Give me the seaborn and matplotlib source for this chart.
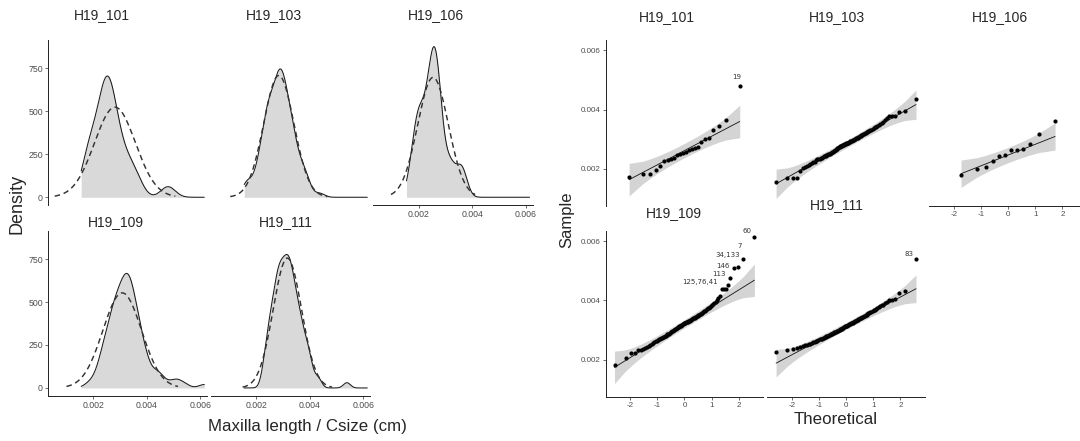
import numpy as np
import matplotlib
matplotlib.use("Agg")
import matplotlib.pyplot as plt
import seaborn as sns
from statistics import NormalDist

# ---------------- data ----------------
groups = ["H19_101", "H19_103", "H19_106", "H19_109", "H19_111"]

# sorted Maxilla length / Csize values, in units of 1e-3 cm
h19_101 = [1.72, 1.82, 1.84, 1.98, 2.09, 2.28, 2.30, 2.32, 2.38, 2.46, 2.51, 2.55,
           2.58, 2.63, 2.67, 2.70, 2.74, 2.92, 3.02, 3.04, 3.30, 3.44, 3.66, 4.79]
h19_103 = [1.55, 1.69, 1.69, 1.70, 1.93, 2.02, 2.07, 2.10, 2.13, 2.16,
           2.19, 2.22, 2.25, 2.29, 2.32, 2.33, 2.35, 2.36, 2.38, 2.40,
           2.42, 2.43, 2.45, 2.46, 2.47, 2.49, 2.50, 2.52, 2.53, 2.55,
           2.56, 2.58, 2.60, 2.61, 2.63, 2.65, 2.67, 2.69, 2.71, 2.73,
           2.75, 2.77, 2.78, 2.79, 2.80, 2.81, 2.82, 2.83, 2.84, 2.85,
           2.86, 2.87, 2.88, 2.89, 2.90, 2.92, 2.93, 2.94, 2.95, 2.96,
           2.97, 2.99, 3.00, 3.02, 3.03, 3.04, 3.06, 3.07, 3.08, 3.10,
           3.11, 3.13, 3.15, 3.17, 3.18, 3.20, 3.21, 3.23, 3.25, 3.27,
           3.29, 3.31, 3.33, 3.35, 3.38, 3.40, 3.42, 3.44, 3.47, 3.50,
           3.54, 3.59, 3.64, 3.71, 3.77, 3.79, 3.80, 3.91, 3.95, 4.37]
h19_106 = [1.80, 2.01, 2.05, 2.28, 2.45, 2.46, 2.64, 2.64, 2.67, 2.84, 3.19, 3.61]
h19_109 = [1.82, 2.04, 2.21, 2.22, 2.33, 2.34, 2.36, 2.39, 2.43, 2.47,
           2.50, 2.53, 2.56, 2.59, 2.62, 2.64, 2.66, 2.68, 2.70, 2.72,
           2.74, 2.76, 2.78, 2.80, 2.81, 2.83, 2.85, 2.87, 2.88, 2.90,
           2.92, 2.93, 2.95, 2.97, 2.99, 3.01, 3.02, 3.04, 3.06, 3.07,
           3.09, 3.10, 3.12, 3.13, 3.15, 3.16, 3.18, 3.19, 3.21, 3.22,
           3.23, 3.24, 3.26, 3.27, 3.28, 3.30, 3.31, 3.32, 3.34, 3.35,
           3.36, 3.38, 3.39, 3.40, 3.42, 3.43, 3.45, 3.46, 3.48, 3.50,
           3.51, 3.53, 3.55, 3.57, 3.59, 3.61, 3.63, 3.65, 3.68, 3.70,
           3.73, 3.75, 3.78, 3.81, 3.84, 3.88, 3.92, 3.96, 4.01, 4.07,
           4.14, 4.38, 4.39, 4.40, 4.52, 4.77, 5.08, 5.11, 5.40, 6.14]
h19_111 = [2.26, 2.31, 2.37, 2.38, 2.41, 2.45, 2.48, 2.50, 2.52, 2.54,
           2.56, 2.58, 2.60, 2.62, 2.64, 2.66, 2.68, 2.70, 2.71, 2.73,
           2.74, 2.76, 2.77, 2.79, 2.80, 2.81, 2.83, 2.84, 2.85, 2.86,
           2.88, 2.89, 2.90, 2.92, 2.93, 2.94, 2.96, 2.97, 2.98, 3.00,
           3.01, 3.02, 3.04, 3.05, 3.06, 3.08, 3.09, 3.10, 3.12, 3.13,
           3.14, 3.15, 3.17, 3.18, 3.19, 3.20, 3.21, 3.22, 3.24, 3.25,
           3.26, 3.27, 3.29, 3.30, 3.31, 3.33, 3.34, 3.36, 3.37, 3.39,
           3.40, 3.42, 3.43, 3.45, 3.46, 3.48, 3.50, 3.52, 3.54, 3.56,
           3.58, 3.60, 3.62, 3.64, 3.66, 3.69, 3.71, 3.74, 3.77, 3.80,
           3.83, 3.86, 3.90, 3.96, 4.00, 4.01, 4.03, 4.26, 4.33, 5.38]

# dashed reference normal curves (1e-3 cm): mean, sd, left end of drawn range
norm_mean = [2.81, 2.84, 2.54, 3.08, 3.16]
norm_sd = [0.761, 0.563, 0.572, 0.721, 0.528]
norm_from = [0.56, 1.03, 0.97, 1.00, 1.49]
# kernel bandwidth of the solid density (1e-3 cm)
kde_bw = [0.27, 0.18, 0.20, 0.20, 0.13]

# labelled outliers in the QQ plots
out_group = ["H19_101", "H19_109", "H19_109", "H19_109", "H19_109", "H19_109", "H19_109", "H19_111"]
out_rank = [23, 99, 98, 96, 95, 94, 91, 99]  # index in sorted sample
out_text = ["19", "60", "7", "34,133", "146", "113", "125,76,41", "83"]

left_xticks = [0.002, 0.004, 0.006]
left_xticklabels = ["0.002", "0.004", "0.006"]
left_yticks = [0, 250, 500, 750]
left_yticklabels = ["0", "250", "500", "750"]
qq_xticks = [-2, -1, 0, 1, 2]
qq_xticklabels = ["-2", "-1", "0", "1", "2"]
qq_yticks = [0.002, 0.004, 0.006]
qq_yticklabels = ["0.002", "0.004", "0.006"]

samples = {g: np.array(v) * 1e-3 for g, v in
           zip(groups, [h19_101, h19_103, h19_106, h19_109, h19_111])}

# ---------------- layout (pixels) ----------------
W, H = 1080, 441
sns.set_style("white")
plt.rcParams["font.family"] = ["Liberation Sans", "DejaVu Sans"]
fig = plt.figure(figsize=(W / 100, H / 100), dpi=100)

def add_ax(x0, y0, w, h):
    ax = fig.add_axes([x0 / W, 1 - (y0 + h) / H, w / W, h / H])
    ax.set_facecolor("none")
    return ax

def ftext(x, y, s, **kw):
    fig.text(x / W, 1 - y / H, s, ha="center", va="center", **kw)

TICKC = "#333333"
LABC = "#4d4d4d"
FILL = "#d9d9d9"
BAND = "#d4d4d4"

def style_axes(ax, show_x, show_y, fs):
    for side in ["top", "right"]:
        ax.spines[side].set_visible(False)
    ax.spines["left"].set_visible(show_y)
    ax.spines["bottom"].set_visible(show_x)
    for side in ["left", "bottom"]:
        ax.spines[side].set_color("#222222")
        ax.spines[side].set_linewidth(0.7)
    ax.tick_params(axis="x", bottom=show_x, labelbottom=show_x, length=2.2, width=0.5,
                   color=TICKC, labelcolor=LABC, labelsize=fs, pad=1.5)
    ax.tick_params(axis="y", left=show_y, labelleft=show_y, length=2.2, width=0.5,
                   color=TICKC, labelcolor=LABC, labelsize=fs, pad=1.2)
    ax.set_xlabel("")
    ax.set_ylabel("")

gmin = min(v.min() for v in samples.values())
gmax = max(v.max() for v in samples.values())

# ---------------- left: density facets ----------------
L_colx = [47.7, 210.7, 373.0]
L_rowy = [40.0, 230.7]
L_w, L_h = 159.5, 165.0
L_title = [(102, 15), (274, 15), (436, 15), (116, 222), (286, 222)]

for i, g in enumerate(groups):
    r, c = divmod(i, 3)
    ax = add_ax(L_colx[c], L_rowy[r], L_w, L_h)
    x = samples[g]
    factor = kde_bw[i] * 1e-3 / np.std(x, ddof=1)
    sns.kdeplot(x=x, ax=ax, bw_method=factor, cut=30, clip=(gmin, gmax), gridsize=600,
                fill=True, color=FILL, alpha=1, linewidth=0)
    nd = NormalDist(norm_mean[i] * 1e-3, norm_sd[i] * 1e-3)
    x0 = norm_from[i] * 1e-3
    x1 = 2 * norm_mean[i] * 1e-3 - x0
    xs = np.linspace(x0, x1, 300)
    ys = np.array([nd.pdf(v) for v in xs])
    sns.kdeplot(x=x, ax=ax, bw_method=factor, cut=30, clip=(gmin, gmax), gridsize=600,
                color="#1a1a1a", linewidth=0.75)
    sns.lineplot(x=xs, y=ys, ax=ax, color="#333333", linewidth=1.05,
                 linestyle=(0, (3.8, 2.6)), estimator=None, sort=False)
    ax.set_xlim(0.0003, 0.00625)
    ax.set_ylim(-45, 915)
    ax.set_xticks(left_xticks)
    ax.set_xticklabels(left_xticklabels)
    ax.set_yticks(left_yticks)
    ax.set_yticklabels(left_yticklabels)
    show_x = (r == 1) or (c == 2)
    style_axes(ax, show_x, c == 0, 6.3)
    ftext(*L_title[i], g, fontsize=10)

ftext(17, 204, "Density", fontsize=13, rotation=90)
ftext(307, 427, "Maxilla length / Csize (cm)", fontsize=12.2)

# ---------------- right: QQ facets ----------------
R_colx = [605.7, 767.3, 929.3]
R_rowy = [40.0, 230.7]
R_w, R_h = 157.5, 166.0
R_title = [(667, 17), (837, 17), (1000, 17), (674, 213), (837, 205)]
label_off = [(-2.6, 9.3), (-7.7, 5.7), (-3.3, 13.3), (-6, 13), (-7.3, 11.7),
             (-9, 11.3), (-21.7, 7), (-7.3, 5)]

std = NormalDist()
for i, g in enumerate(groups):
    r, c = divmod(i, 3)
    ax = add_ax(R_colx[c], R_rowy[r], R_w, R_h)
    y = np.sort(samples[g])
    n = len(y)
    a = 3 / 8 if n <= 10 else 0.5
    p = (np.arange(1, n + 1) - a) / (n + 1 - 2 * a)
    t = np.array([std.inv_cdf(v) for v in p])
    q1, q3 = np.quantile(y, [0.25, 0.75])
    z1, z3 = std.inv_cdf(0.25), std.inv_cdf(0.75)
    slope = (q3 - q1) / (z3 - z1)
    icpt = q1 - slope * z1
    fit = icpt + slope * t
    se = slope / np.array([std.pdf(v) for v in t]) * np.sqrt(p * (1 - p) / n)
    zz = std.inv_cdf(0.975)
    ax.fill_between(t, fit - zz * se, fit + zz * se, color=BAND, linewidth=0)
    sns.lineplot(x=t, y=fit, ax=ax, color="#111111", linewidth=0.6,
                 estimator=None, sort=False)
    sns.scatterplot(x=t, y=y, ax=ax, color="black", s=9, linewidth=0)
    for k in range(len(out_text)):
        if out_group[k] == g:
            j = out_rank[k]
            dx, dy = label_off[k]
            ax.annotate(out_text[k], (t[j], y[j]), xytext=(dx, dy),
                        textcoords="offset pixels", ha="center", va="center",
                        fontsize=5, color="#333333", family=["DejaVu Sans"])
    ax.set_xlim(-2.9, 2.9)
    ax.set_ylim(0.00075, 0.00635)
    ax.set_xticks(qq_xticks)
    ax.set_xticklabels(qq_xticklabels)
    ax.set_yticks(qq_yticks)
    ax.set_yticklabels(qq_yticklabels)
    show_x = (r == 1) or (c == 2)
    style_axes(ax, show_x, c == 0, 5.8)
    ftext(*R_title[i], g, fontsize=10)

ftext(567, 220, "Sample", fontsize=12, rotation=90)
ftext(836, 420, "Theoretical", fontsize=12.2)

fig.savefig("out.png", dpi=100)
